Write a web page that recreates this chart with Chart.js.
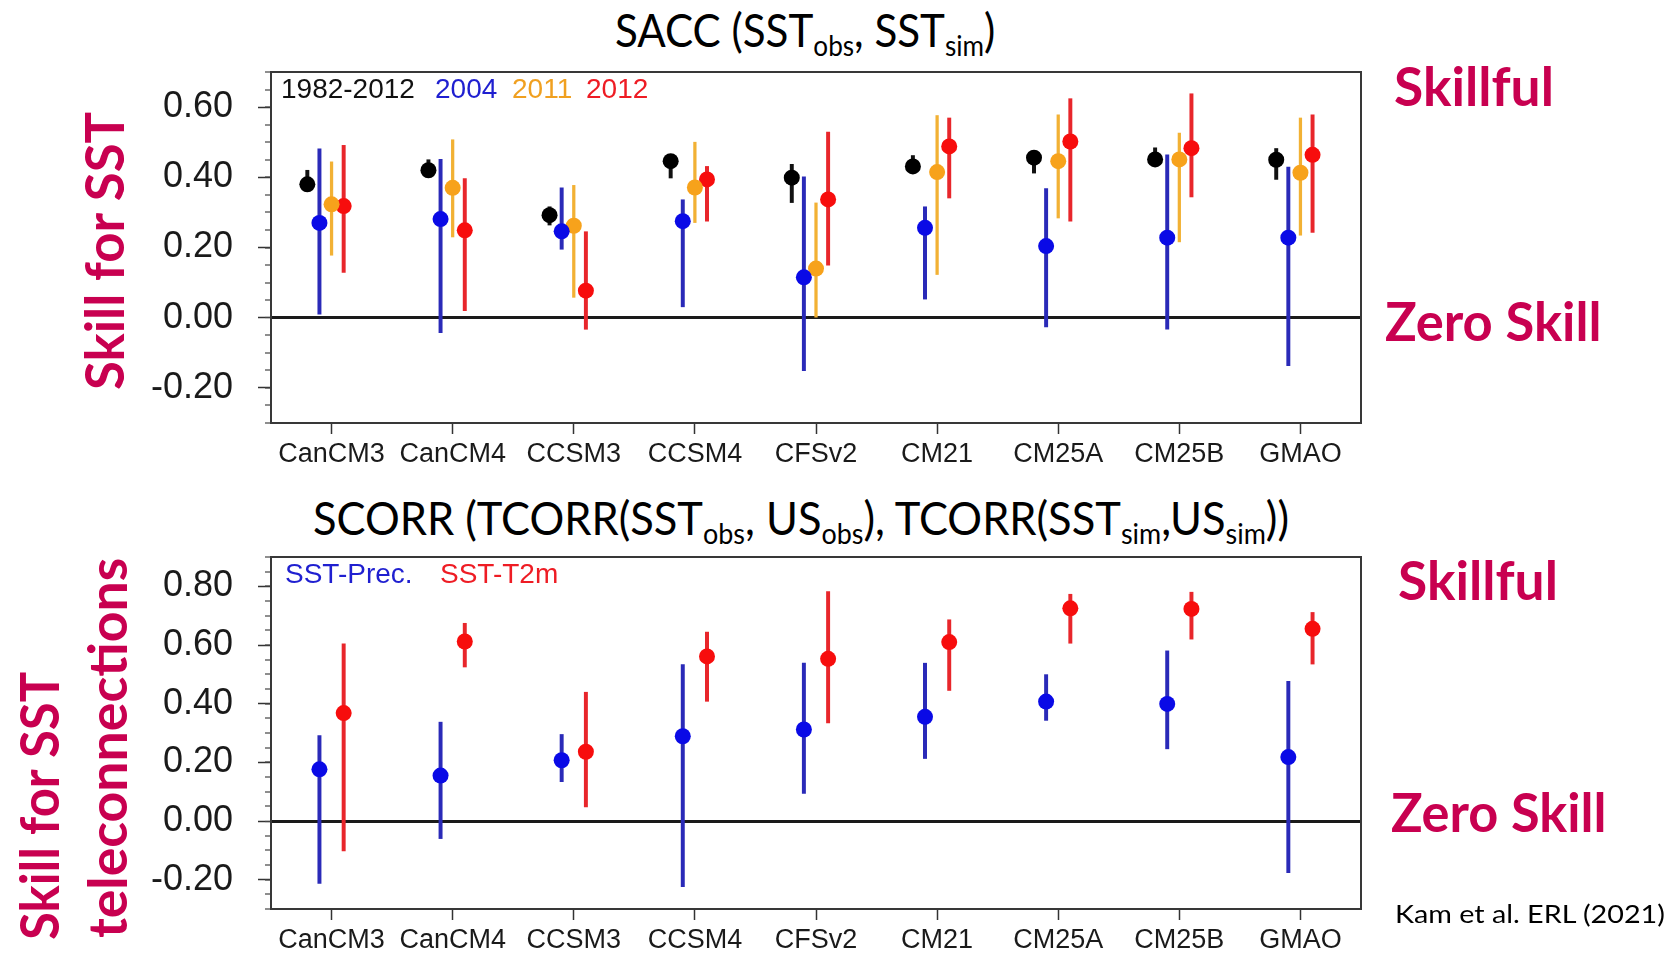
<!DOCTYPE html>
<html>
<head>
<meta charset="utf-8">
<title>SACC / SCORR skill by model</title>
<script src="https://cdn.jsdelivr.net/npm/chart.js@4.4.1/dist/chart.umd.min.js"></script>
<style>
  html, body { margin: 0; padding: 0; background: #fff; }
  #page { position: relative; width: 1680px; height: 957px; overflow: hidden; background: #fff; }
  .box { position: absolute; }
  .txt { position: absolute; white-space: nowrap; line-height: 1; transform-origin: 0 0; }
  .title { font-family: Lato, "Open Sans", sans-serif; font-size: 46px; color: #000; }
  .title sub { font-size: 0.62em; vertical-align: -0.3em; line-height: 1; }
  .pink { font-family: Lato, "Open Sans", sans-serif; font-weight: 700; font-size: 54px; color: #c80050; }
  .legend { font-family: "Liberation Sans", Arial, sans-serif; font-size: 28px; }
  .note { font-family: Lato, "Open Sans", sans-serif; font-size: 25px; color: #000; }
</style>
</head>
<body>
<div id="page">
  <div class="txt title" data-x="615" data-w="380" style="top:7px">SACC (SST<sub>obs</sub>, SST<sub>sim</sub>)</div>
  <div class="txt title" data-x="313" data-w="976" style="top:495px">SCORR (TCORR(SST<sub>obs</sub>, US<sub>obs</sub>), TCORR(SST<sub>sim</sub>,US<sub>sim</sub>))</div>

  <div class="box" style="left:0;top:40px;width:1400px;height:450px"><canvas id="saccChart"></canvas></div>
  <div class="box" style="left:0;top:525px;width:1400px;height:432px"><canvas id="scorrChart"></canvas></div>

  <!-- 범례 텍스트 -->
  <div class="txt legend" data-x="281" style="top:75px;color:#111">1982-2012</div>
  <div class="txt legend" data-x="435" style="top:75px;color:#1f1fd0">2004</div>
  <div class="txt legend" data-x="512" style="top:75px;color:#f0a020">2011</div>
  <div class="txt legend" data-x="586" style="top:75px;color:#ee1c24">2012</div>
  <div class="txt legend" data-x="285" style="top:560px;color:#1f1fd0">SST-Prec.</div>
  <div class="txt legend" data-x="440" style="top:560px;color:#ee1c24">SST-T2m</div>

  <!-- 오른쪽 주석 -->
  <div class="txt pink" data-x="1394" data-w="160" style="top:59px">Skillful</div>
  <div class="txt pink" data-x="1385" data-w="217" style="top:294px">Zero Skill</div>
  <div class="txt pink" data-x="1398" data-w="160" style="top:553px">Skillful</div>
  <div class="txt pink" data-x="1391" data-w="216" style="top:785px">Zero Skill</div>
  <div class="txt note" data-x="1395" data-w="270" style="top:901px">Kam et al. ERL (2021)</div>

  <!-- 세로 축 제목 -->
  <div class="txt pink vert" data-x="77" data-y="390" data-w="278">Skill for SST</div>
  <div class="txt pink vert" data-x="12" data-y="940" data-w="268">Skill for SST</div>
  <div class="txt pink vert" data-x="80" data-y="938" data-w="380">teleconnections</div>
</div>

<script>
// 모델 이름 (x축)
const MODELS = ["CanCM3", "CanCM4", "CCSM3", "CCSM4", "CFSv2", "CM21", "CM25A", "CM25B", "GMAO"];

// y축 눈금
const SACC_TICKS = [-0.2, 0.0, 0.2, 0.4, 0.6];
const SCORR_TICKS = [-0.2, 0.0, 0.2, 0.4, 0.6, 0.8];

// SACC: 1982-2012
const SACC_ALL = [0.380, 0.420, 0.292, 0.446, 0.399, 0.431, 0.456, 0.451, 0.450];
const SACC_ALL_LO = [0.360, 0.405, 0.264, 0.398, 0.328, 0.420, 0.412, 0.440, 0.394];
const SACC_ALL_HI = [0.420, 0.450, 0.316, 0.458, 0.437, 0.462, 0.467, 0.484, 0.482];
// SACC: 2004
const SACC_2004 = [0.270, 0.281, 0.246, 0.275, 0.115, 0.256, 0.204, 0.228, 0.228];
const SACC_2004_LO = [0.010, -0.043, 0.195, 0.031, -0.151, 0.053, -0.026, -0.033, -0.137];
const SACC_2004_HI = [0.481, 0.451, 0.370, 0.336, 0.401, 0.316, 0.368, 0.464, 0.429];
// SACC: 2011
const SACC_2011 = [0.323, 0.370, 0.262, 0.371, 0.140, 0.415, 0.446, 0.451, 0.413];
const SACC_2011_LO = [0.178, 0.230, 0.058, 0.271, 0.000, 0.123, 0.284, 0.216, 0.235];
const SACC_2011_HI = [0.444, 0.507, 0.377, 0.500, 0.327, 0.576, 0.578, 0.526, 0.569];
// SACC: 2012
const SACC_2012 = [0.318, 0.249, 0.077, 0.394, 0.337, 0.488, 0.502, 0.483, 0.464];
const SACC_2012_LO = [0.129, 0.020, -0.033, 0.275, 0.150, 0.341, 0.275, 0.344, 0.243];
const SACC_2012_HI = [0.491, 0.396, 0.245, 0.431, 0.529, 0.569, 0.624, 0.638, 0.578];

// SCORR: SST-Prec.
const SCORR_PREC = [0.176, 0.155, 0.207, 0.289, 0.312, 0.355, 0.407, 0.399, 0.218];
const SCORR_PREC_LO = [-0.213, -0.060, 0.134, -0.224, 0.094, 0.213, 0.343, 0.246, -0.176];
const SCORR_PREC_HI = [0.291, 0.337, 0.295, 0.533, 0.538, 0.538, 0.499, 0.580, 0.476];
// SCORR: SST-T2m
const SCORR_T2M = [0.368, 0.612, 0.236, 0.561, 0.553, 0.610, 0.725, 0.723, 0.655];
const SCORR_T2M_LO = [-0.102, 0.525, 0.048, 0.408, 0.334, 0.445, 0.606, 0.620, 0.535];
const SCORR_T2M_HI = [0.604, 0.674, 0.439, 0.644, 0.782, 0.686, 0.773, 0.780, 0.711];

// 텍스트 폭 맞추기
function placeText() {
	document.querySelectorAll(".txt").forEach((el) => {
		const x = +el.dataset.x;
		el.style.transform = "none";
		const k = el.dataset.w ? +el.dataset.w / el.offsetWidth : 1;
		if (el.classList.contains("vert")) {
			el.style.left = "0px";
			el.style.top = "0px";
			el.style.transform = `translate(${x}px, ${el.dataset.y}px) rotate(-90deg) scaleX(${k})`;
		} else {
			el.style.left = x + "px";
			el.style.transform = `scaleX(${k})`;
		}
	});
}

// Narrow 글꼴이 있는지 확인
function narrowAvailable() {
	const ctx = document.createElement("canvas").getContext("2d");
	const probe = "CanCM3 CCSM4 GMAO";
	ctx.font = '40px "Liberation Sans"';
	const a = ctx.measureText(probe).width;
	ctx.font = '40px "Liberation Sans Narrow", "Liberation Sans"';
	const b = ctx.measureText(probe).width;
	return b < a * 0.9;
}

const hasNarrow = narrowAvailable();
const xFont = hasNarrow ? { family: "Liberation Sans Narrow", size: 33 } : { family: "Liberation Sans", size: 27 };
const xPad = hasNarrow ? 1 : 4;

function whiskers(lo, hi, offset, color, width) {
	return {
		type: "bar",
		data: lo.map((v, i) => ({ x: i + offset, y: [v, hi[i]] })),
		backgroundColor: color,
		borderWidth: 0,
		barThickness: width,
		maxBarThickness: width,
		grouped: false,
		order: 2,
	};
}

function dots(values, offset, color) {
	return {
		type: "scatter",
		data: values.map((v, i) => ({ x: i + offset, y: v })),
		pointRadius: 8,
		pointHoverRadius: 8,
		pointBackgroundColor: color,
		pointBorderWidth: 0,
		showLine: false,
		order: 1,
	};
}

function noPad(s) {
	s.paddingTop = 0;
	s.paddingBottom = 0;
	s.paddingLeft = 0;
	s.paddingRight = 0;
}

function minorTicks(min, max, step) {
	const out = [];
	for (let k = Math.round(min / step); k <= Math.round(max / step); k++) {
		out.push({ value: +(k * step).toFixed(6) });
	}
	return out;
}

function makeScales(yMin, yMax, yTicks, xHeight) {
	const frame = { display: true, color: "#383838", width: 2 };
	const xMax = MODELS.length - 0.5;
	return {
		x: {
			type: "linear",
			min: -0.5,
			max: xMax,
			offset: false,
			afterBuildTicks: (s) => { s.ticks = MODELS.map((_, i) => ({ value: i })); },
			afterFit: (s) => { s.height = xHeight; noPad(s); },
			ticks: { autoSkip: false, maxRotation: 0, minRotation: 0, padding: xPad, color: "#1a1a1a", font: xFont, callback: (v) => MODELS[v] },
			grid: { offset: false, drawOnChartArea: false, tickLength: 11, tickWidth: 1.5, tickColor: "#333" },
			border: frame,
		},
		xTop: {
			type: "linear",
			position: "top",
			min: -0.5,
			max: xMax,
			offset: false,
			afterFit: (s) => { s.height = 0; noPad(s); },
			ticks: { display: false },
			grid: { offset: false, drawOnChartArea: false, drawTicks: false },
			border: frame,
		},
		y: {
			type: "linear",
			position: "left",
			weight: 1,
			min: yMin,
			max: yMax,
			beginAtZero: false,
			afterBuildTicks: (s) => { s.ticks = yTicks.map((v) => ({ value: v })); },
			afterFit: (s) => { s.width = 271; noPad(s); },
			ticks: { padding: 25, color: "#1a1a1a", font: { family: "Liberation Sans", size: 36 }, callback: (v) => v.toFixed(2) },
			grid: { drawOnChartArea: false, tickLength: 13, tickWidth: 1.5, tickColor: "#333" },
			border: frame,
		},
		yMinor: {
			type: "linear",
			position: "left",
			weight: 0,
			min: yMin,
			max: yMax,
			afterBuildTicks: (s) => { s.ticks = minorTicks(yMin, yMax, 0.05); },
			afterFit: (s) => { s.width = 0; noPad(s); },
			ticks: { display: false },
			grid: {
				drawOnChartArea: true,
				tickLength: 6,
				tickWidth: 1.2,
				tickColor: "#444",
				color: (c) => (c.tick && Math.abs(c.tick.value) < 1e-9 ? "#1a1a1a" : "rgba(0,0,0,0)"),
				lineWidth: (c) => (c.tick && Math.abs(c.tick.value) < 1e-9 ? 3 : 0),
			},
			border: { display: false },
		},
		yRight: {
			type: "linear",
			position: "right",
			min: yMin,
			max: yMax,
			afterFit: (s) => { s.width = 0; noPad(s); },
			ticks: { display: false },
			grid: { drawOnChartArea: false, drawTicks: false },
			border: frame,
		},
	};
}

function makeChart(id, datasets, yMin, yMax, yTicks, padding, xHeight) {
	return new Chart(document.getElementById(id), {
		type: "scatter",
		data: { datasets: datasets },
		options: {
			responsive: true,
			maintainAspectRatio: false,
			animation: false,
			events: [],
			layout: { autoPadding: false, padding: padding },
			plugins: { legend: { display: false }, tooltip: { enabled: false } },
			scales: makeScales(yMin, yMax, yTicks, xHeight),
		},
	});
}

// 위쪽: SACC
makeChart(
	"saccChart",
	[
		whiskers(SACC_ALL_LO, SACC_ALL_HI, -0.2, "#111", 3.3),
		whiskers(SACC_2004_LO, SACC_2004_HI, -0.1, "#2a2ab8", 3.3),
		whiskers(SACC_2011_LO, SACC_2011_HI, 0, "#f2b134", 2.6),
		whiskers(SACC_2012_LO, SACC_2012_HI, 0.1, "#e8262b", 3.3),
		dots(SACC_ALL, -0.2, "#000"),
		dots(SACC_2004, -0.1, "#0a0ae6"),
		dots(SACC_2011, 0, "#f7a21b"),
		dots(SACC_2012, 0.1, "#f70d0d"),
	],
	-0.3, 0.7, SACC_TICKS,
	{ top: 32, right: 39, bottom: 7, left: 0 },
	60
);

// 아래쪽: SCORR
makeChart(
	"scorrChart",
	[
		whiskers(SCORR_PREC_LO, SCORR_PREC_HI, -0.1, "#2a2ab8", 3.3),
		whiskers(SCORR_T2M_LO, SCORR_T2M_HI, 0.1, "#e8262b", 3.3),
		dots(SCORR_PREC, -0.1, "#0a0ae6"),
		dots(SCORR_T2M, 0.1, "#f70d0d"),
	],
	-0.3, 0.9, SCORR_TICKS,
	{ top: 32, right: 39, bottom: 0, left: 0 },
	48
);

placeText();
if (document.fonts && document.fonts.ready) document.fonts.ready.then(placeText);
</script>
</body>
</html>
